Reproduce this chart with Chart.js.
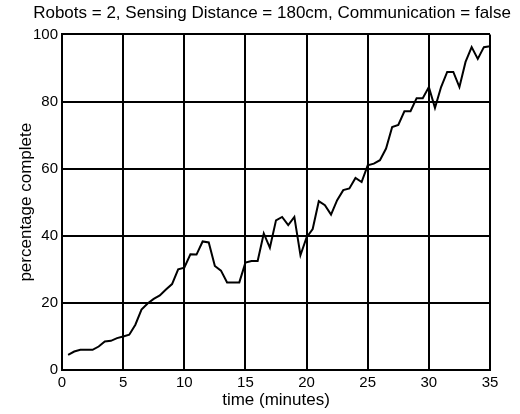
<!DOCTYPE html>
<html>
<head>
<meta charset="utf-8">
<script src="https://cdn.jsdelivr.net/npm/chart.js@4/dist/chart.umd.min.js"></script>
<style>
  html, body { margin: 0; padding: 0; background: #fff; }
  #wrap { width: 520px; height: 414px; }
</style>
</head>
<body>
<div id="wrap"><canvas id="chart" width="520" height="414"></canvas></div>
<script>
// Robot coverage run
const minutes = [0.5, 1, 1.5, 2, 2.5, 3, 3.5, 4, 4.5, 5, 5.5, 6, 6.5, 7, 7.5, 8, 8.5, 9, 9.5, 10,
  10.5, 11, 11.5, 12, 12.5, 13, 13.5, 14, 14.5, 15, 15.5, 16, 16.5, 17, 17.5, 18, 18.5, 19, 19.5, 20,
  20.5, 21, 21.5, 22, 22.5, 23, 23.5, 24, 24.5, 25, 25.5, 26, 26.5, 27, 27.5, 28, 28.5, 29, 29.5, 30,
  30.5, 31, 31.5, 32, 32.5, 33, 33.5, 34, 34.5, 35];
const percentComplete = [4.5, 5.5, 6, 6, 6, 7, 8.5, 8.7, 9.5, 10, 10.5, 13.5, 18, 19.8, 21.2, 22.2, 24, 25.6, 30, 30.5,
  34.5, 34.4, 38.3, 38, 31, 29.6, 26.1, 26.1, 26.1, 32, 32.5, 32.5, 40.7, 36.4, 44.6, 45.6, 43.2, 45.6, 34.2, 39.5,
  42, 50.3, 49.1, 46.3, 50.6, 53.6, 54.1, 57.2, 56, 61, 61.5, 62.5, 66, 72.4, 73, 77.1, 77.1, 81, 81, 84.3,
  78.1, 84.3, 88.8, 88.8, 84.3, 91.8, 96.2, 92.7, 96.2, 96.5];
const xTicks = [0, 5, 10, 15, 20, 25, 30, 35];
const yTicks = [0, 20, 40, 60, 80, 100];

const family = 'Liberation Sans, Arial, sans-serif';
const titleFont = { family, size: 17 };
const tickFont = { family, size: 15 };

const points = minutes.map((m, i) => ({ x: m, y: percentComplete[i] }));

new Chart(document.getElementById('chart'), {
  type: 'line',
  data: {
    datasets: [{
      data: points,
      borderColor: '#000',
      borderWidth: 2,
      pointRadius: 0,
      tension: 0,
      fill: false
    }]
  },
  options: {
    responsive: false,
    animation: false,
    layout: { padding: { left: 24, right: 0, top: 0, bottom: 0 } },
    plugins: {
      legend: { display: false },
      tooltip: { enabled: false },
      title: {
        display: true,
        text: 'Robots = 2, Sensing Distance = 180cm, Communication = false',
        color: '#000',
        font: { ...titleFont, weight: 'normal' },
        padding: { top: 3, bottom: 11 }
      }
    },
    scales: {
      x: {
        type: 'linear',
        min: 0,
        max: 35,
        afterBuildTicks: s => { s.ticks = xTicks.map(v => ({ value: v })); },
        afterFit: s => { s.height = 44; },
        grid: { color: '#000', lineWidth: 2, drawTicks: false },
        border: { color: '#000', width: 2 },
        ticks: { color: '#000', font: tickFont, padding: 4, maxRotation: 0 },
        title: { display: true, text: 'time (minutes)', color: '#000', font: titleFont, padding: { top: 0, bottom: 3 } }
      },
      y: {
        min: 0,
        max: 100,
        afterBuildTicks: s => { s.ticks = yTicks.map(v => ({ value: v })); },
        afterFit: s => { s.width = 38; },
        grid: { color: '#000', lineWidth: 2, drawTicks: false },
        border: { color: '#000', width: 2 },
        ticks: { color: '#000', font: tickFont, padding: 4 },
        title: { display: true, text: 'percentage complete', color: '#000', font: titleFont, padding: { top: -8, bottom: 0 } }
      },
      // empty right margin so the title can span the full width
      yRight: {
        position: 'right',
        afterFit: s => { s.width = 30; },
        grid: { display: false },
        border: { display: false },
        ticks: { display: false }
      }
    }
  }
});
</script>
</body>
</html>
